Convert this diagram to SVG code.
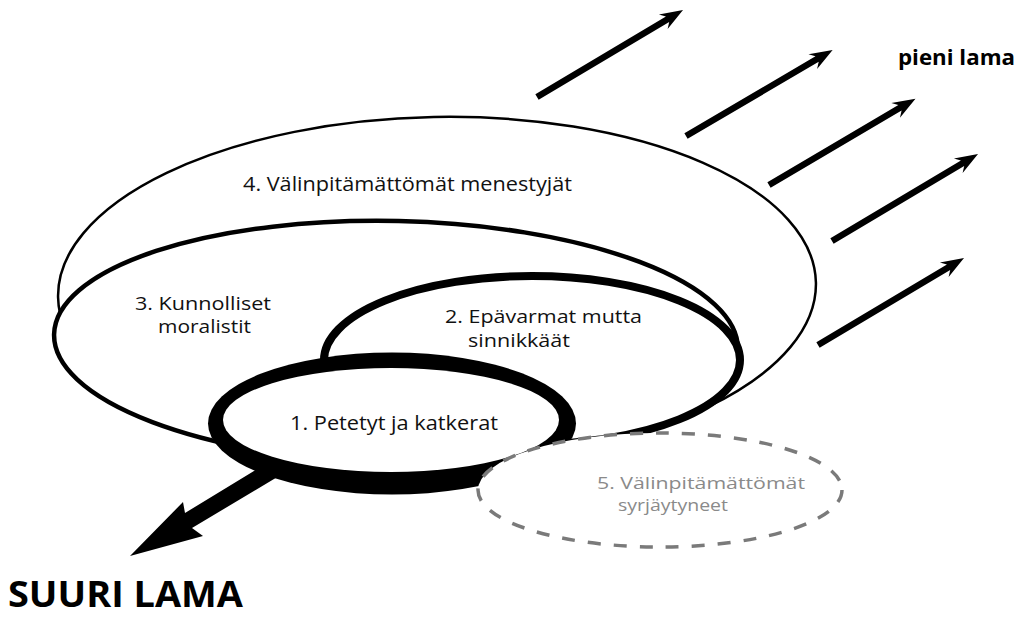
<svg xmlns="http://www.w3.org/2000/svg" width="1028" height="617" viewBox="0 0 1028 617">
<style>
  .lbl { font-family: "Open Sans", "Liberation Sans", sans-serif; font-size: 20px; fill: #111; }
  .two { font-size: 18.5px; }
  .gray { fill: #8a8a8a; font-size: 16.5px; }
  .bold { font-family: "Open Sans", "Liberation Sans", sans-serif; font-weight: 700; fill: #000; }
  .ring { fill: #fff; stroke: #000; }
</style>
<defs>
  <polygon id="arrowSmall" points="0,-3.2 152,-3.2 147,-8.5 170,0 147,8.5 152,3.2 0,3.2" fill="#000"/>
</defs>
<rect width="1028" height="617" fill="#fff"/>

<g id="node4">
  <ellipse class="ring" cx="437" cy="290" rx="379" ry="173" stroke-width="2.5" transform="rotate(-1.1 437 290)"/>
  <text class="lbl" x="243" y="191" textLength="329" lengthAdjust="spacingAndGlyphs">4. Välinpitämättömät menestyjät</text>
</g>

<g id="node3">
  <ellipse class="ring" cx="396" cy="342" rx="342" ry="121" stroke-width="4.5" transform="rotate(1.3 396 342)"/>
  <text class="lbl two" x="135" y="310" textLength="136" lengthAdjust="spacingAndGlyphs">3. Kunnolliset</text>
  <text class="lbl two" x="158" y="333" textLength="93" lengthAdjust="spacingAndGlyphs">moralistit</text>
</g>

<g id="node2">
  <ellipse class="ring" cx="532" cy="360" rx="208" ry="84" stroke-width="8"/>
  <text class="lbl two" x="445" y="323" textLength="197" lengthAdjust="spacingAndGlyphs">2. Epävarmat mutta</text>
  <text class="lbl two" x="468" y="347" textLength="102" lengthAdjust="spacingAndGlyphs">sinnikkäät</text>
</g>

<g id="node1">
  <ellipse cx="392" cy="423.5" rx="184" ry="71" fill="#000"/>
  <ellipse cx="391" cy="420" rx="168" ry="52" fill="#fff"/>
  <text class="lbl" x="290" y="430" textLength="208" lengthAdjust="spacingAndGlyphs">1. Petetyt ja katkerat</text>
</g>

<g id="node5">
  <ellipse cx="660" cy="490" rx="182" ry="57" fill="#fff" stroke="#7a7a7a" stroke-width="3.5" stroke-dasharray="13 13"/>
  <text class="lbl gray" x="597" y="489" textLength="208" lengthAdjust="spacingAndGlyphs">5. Välinpitämättömät</text>
  <text class="lbl gray" x="618" y="511" textLength="110" lengthAdjust="spacingAndGlyphs">syrjäytyneet</text>
</g>

<g id="connectors">
  <use href="#arrowSmall" transform="translate(537,97) rotate(-30.8)"/>
  <use href="#arrowSmall" transform="translate(686,136) rotate(-30.4)"/>
  <use href="#arrowSmall" transform="translate(769,185) rotate(-30.5)"/>
  <use href="#arrowSmall" transform="translate(832,241) rotate(-30.8)"/>
  <use href="#arrowSmall" transform="translate(818,345) rotate(-30.8)"/>
  <polygon points="262,466 185,513 183,502 130,556 203,536 192,528 279,476" fill="#000"/>
</g>

<g id="labels">
  <text class="bold" x="898" y="65" font-size="21" textLength="117" lengthAdjust="spacingAndGlyphs">pieni lama</text>
  <text class="bold" x="8" y="607" font-size="35" textLength="235" lengthAdjust="spacingAndGlyphs">SUURI LAMA</text>
</g>
</svg>
